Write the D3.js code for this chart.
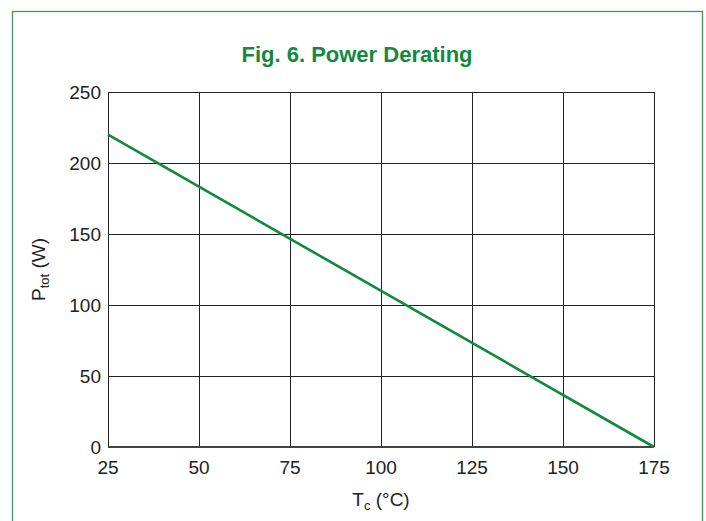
<!DOCTYPE html>
<html>
<head>
<meta charset="utf-8">
<script src="https://cdn.jsdelivr.net/npm/d3@7"></script>
<style>
  html, body { margin: 0; padding: 0; background: #fff; }
  svg { display: block; }
</style>
</head>
<body>
<div id="chart"></div>
<script>
// data
const tempTicks = [25, 50, 75, 100, 125, 150, 175];
const powerTicks = [0, 50, 100, 150, 200, 250];
const caseTemp = [25, 175];
const powerTot = [220, 0];

const width = 706, height = 521;
const margin = {top: 92, right: 52, bottom: 74, left: 108};
const green = "#13883f";

const svg = d3.select("#chart").append("svg")
    .attr("width", width)
    .attr("height", height);

// frame
svg.append("rect")
    .attr("x", 12.5).attr("y", 11.5)
    .attr("width", 690).attr("height", 530)
    .attr("fill", "none")
    .attr("stroke", "#3a9a5c")
    .attr("stroke-width", 1.3);

svg.append("text")
    .attr("x", 357).attr("y", 62)
    .attr("text-anchor", "middle")
    .attr("font-family", "'Liberation Sans Narrow', 'Liberation Sans', Arial, sans-serif")
    .attr("font-weight", "bold")
    .attr("font-size", 22)
    .attr("fill", green)
    .text("Fig. 6. Power Derating");

const x = d3.scaleLinear().domain([25, 175]).range([margin.left, width - margin.right]);
const y = d3.scaleLinear().domain([0, 250]).range([height - margin.bottom, margin.top]);

const grid = svg.append("g").attr("stroke", "#222").attr("stroke-width", 1);

grid.selectAll("line.v")
    .data(tempTicks)
    .join("line")
    .attr("class", "v")
    .attr("x1", d => Math.round(x(d)) + 0.5).attr("x2", d => Math.round(x(d)) + 0.5)
    .attr("y1", y(250)).attr("y2", y(0));

grid.selectAll("line.h")
    .data(powerTicks.filter(d => d > 0))
    .join("line")
    .attr("class", "h")
    .attr("x1", x(25)).attr("x2", x(175))
    .attr("y1", d => Math.round(y(d)) + 0.5).attr("y2", d => Math.round(y(d)) + 0.5);

// heavier baseline
svg.append("line")
    .attr("x1", x(25)).attr("x2", x(175))
    .attr("y1", y(0)).attr("y2", y(0))
    .attr("stroke", "#444").attr("stroke-width", 2.2);

const line = d3.line()
    .x((d, i) => x(caseTemp[i]))
    .y(d => y(d));

svg.append("path")
    .datum(powerTot)
    .attr("d", line)
    .attr("fill", "none")
    .attr("stroke", green)
    .attr("stroke-width", 2.6);

const font = "'Liberation Sans', Arial, sans-serif";

svg.append("g").selectAll("text")
    .data(powerTicks)
    .join("text")
    .attr("x", margin.left - 7)
    .attr("y", d => y(d))
    .attr("dy", "0.35em")
    .attr("text-anchor", "end")
    .attr("font-family", font)
    .attr("font-size", 19)
    .attr("fill", "#222")
    .text(d => d);

svg.append("g").selectAll("text")
    .data(tempTicks)
    .join("text")
    .attr("x", d => x(d))
    .attr("y", y(0) + 27)
    .attr("text-anchor", "middle")
    .attr("font-family", font)
    .attr("font-size", 19)
    .attr("fill", "#222")
    .text(d => d);

const xl = svg.append("text")
    .attr("x", x(100))
    .attr("y", y(0) + 59)
    .attr("text-anchor", "middle")
    .attr("font-family", font)
    .attr("font-size", 19)
    .attr("fill", "#222");
xl.append("tspan").text("T");
xl.append("tspan").attr("font-size", 13).attr("dy", 4).text("c");
xl.append("tspan").attr("dy", -4).text(" (°C)");

const yl = svg.append("text")
    .attr("transform", `translate(45, ${y(125)}) rotate(-90)`)
    .attr("text-anchor", "middle")
    .attr("font-family", font)
    .attr("font-size", 19)
    .attr("fill", "#222");
yl.append("tspan").text("P");
yl.append("tspan").attr("font-size", 13).attr("dy", 4).text("tot");
yl.append("tspan").attr("dy", -4).text(" (W)");
</script>
</body>
</html>
